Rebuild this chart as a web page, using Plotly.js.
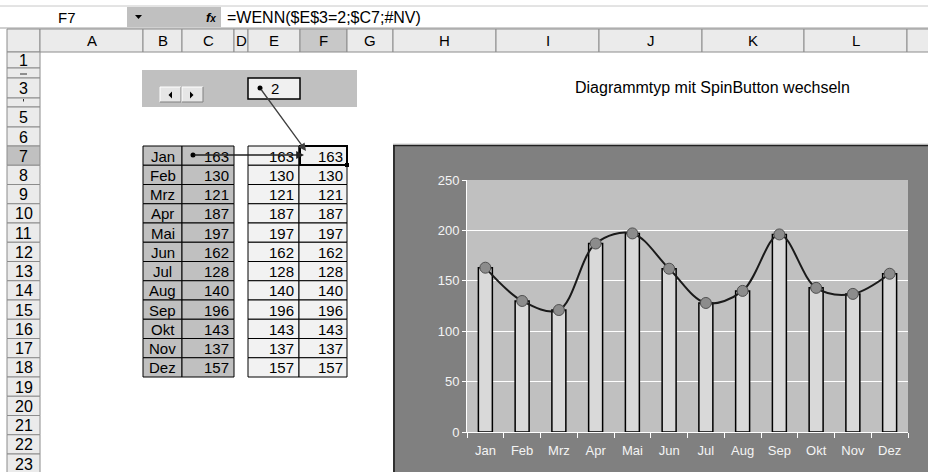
<!DOCTYPE html>
<html><head><meta charset="utf-8">
<script src="https://cdn.plot.ly/plotly-3.0.1.min.js"></script>
<style>html,body{margin:0;padding:0;background:#fff;}#chart{width:928px;height:472px;}</style>
</head><body><div id="chart"></div>
<script>
// ---- data ----
const months = ['Jan','Feb','Mrz','Apr','Mai','Jun','Jul','Aug','Sep','Okt','Nov','Dez'];
const values = [163,130,121,187,197,162,128,140,196,143,137,157];
const columnLetters = ['A','B','C','D','E','F','G','H','I','J','K','L','M'];
const rowNumbers = [1,2,3,4,5,6,7,8,9,10,11,12,13,14,15,16,17,18,19,20,21,22,23];
const cellRef = 'F7';
const formulaText = '=WENN($E$3=2;$C7;#NV)';
const spinValue = '2';
const sheetTitle = 'Diagrammtyp mit SpinButton wechseln';
const yTicks = [0,50,100,150,200,250];

// ---- layout helpers (pixel -> paper) ----
const W = 928, H = 472;
const PX = x => x / W, PY = y => 1 - y / H;
const FONT = 'Liberation Sans, Arial, sans-serif';
const shapes = [], ann = [];
function rect(x0,y0,x1,y1,fill,lc,lw){
  shapes.push({type:'rect',xref:'paper',yref:'paper',layer:'below',
    x0:PX(x0),x1:PX(x1),y0:PY(y1),y1:PY(y0),fillcolor:fill,
    line:{color:lc||'rgba(0,0,0,0)',width:lc?(lw===undefined?1:lw):0}});
}
function seg(x0,y0,x1,y1,c,lw){
  shapes.push({type:'line',xref:'paper',yref:'paper',layer:'below',
    x0:PX(x0),x1:PX(x1),y0:PY(y0),y1:PY(y1),line:{color:c,width:lw||1}});
}
function poly(pts,fill){
  let p = pts.map((q,i)=>(i?'L':'M')+PX(q[0])+','+PY(q[1])).join(' ')+' Z';
  shapes.push({type:'path',xref:'paper',yref:'paper',layer:'below',path:p,fillcolor:fill,line:{width:0}});
}
function dot(x,y,r,c){
  shapes.push({type:'circle',xref:'paper',yref:'paper',layer:'below',
    x0:PX(x-r),x1:PX(x+r),y0:PY(y+r),y1:PY(y-r),fillcolor:c,line:{width:0}});
}
function txt(x,y,s,size,xa,color){
  ann.push({xref:'paper',yref:'paper',x:PX(x),y:PY(y),text:s,showarrow:false,
    xanchor:xa||'center',yanchor:'middle',font:{family:FONT,size:size||14,color:color||'#000'}});
}

// ---- formula bar ----
seg(0,6,W,6,'#c8c8c8',1);
rect(0,7,127,27,'#ffffff');
rect(127,7,221,27,'#c0c0c0');
rect(221,7,W,27,'#ffffff');
seg(0,28,W,28,'#a0a0a0',1);
txt(67,17,cellRef,15);
poly([[135,15],[142,15],[138.5,19]],'#000');
txt(211,17,'<b><i>f</i></b><span style="font-size:10px"><b><i>x</i></b></span>',13);
txt(225,17,formulaText,16,'left');

// ---- column headers ----
const colX = [40,143,182,234,248,300,347,393,496,599,702,804,907,1010];
rect(7,29,40,52,'#ebebeb','#8c8c8c',1);
columnLetters.forEach((c,i)=>{
  const sel = c===cellRef[0];
  rect(colX[i],29,colX[i+1],52,sel?'#c8c8c8':'#ebebeb','#8c8c8c',1);
  if(colX[i+1] <= W) txt((colX[i]+colX[i+1])/2,41,c,15);
});

// ---- row headers ----
const rowTop = r => r<=6 ? [52,68,78,98,107,127][r-1] : 146+(r-7)*19.25;
const rowBot = r => rowTop(r+1);
rowNumbers.forEach(r=>{
  const y0=rowTop(r), y1=rowBot(r);
  rect(7,y0,40,y1,r===7?'#c0c0c0':'#ebebeb','#8c8c8c',1);
  if(r!==2 && r!==4) txt(23.5,(y0+y1)/2+0.5,String(r),16);
});
seg(20,74,27,74,'#333',1);
seg(23.5,99,23.5,101.5,'#333',1);

// ---- spin button panel ----
rect(142,70,357,107,'#c0c0c0');
[[160,181],[182,203]].forEach(b=>{
  rect(b[0],87,b[1],102,'#e6e6e6');
  seg(b[0],87,b[1],87,'#ffffff',1); seg(b[0],87,b[0],102,'#ffffff',1);
  seg(b[0],102,b[1],102,'#808080',1); seg(b[1],87,b[1],102,'#808080',1);
});
poly([[172,91.5],[172,98.5],[168.5,95]],'#000');
poly([[190,91.5],[190,98.5],[193.5,95]],'#000');
rect(248,78,300,99,'#f0f0f0','#000',1.5);
txt(269,88.5,spinValue,15,'left');
dot(260,88,2.5,'#000');

// ---- title text ----
txt(712,87,sheetTitle,16);

// ---- tables ----
months.forEach((m,i)=>{
  const r=7+i, y0=rowTop(r), y1=rowBot(r), yc=(y0+y1)/2+0.5;
  rect(143,y0,182,y1,'#c0c0c0','#000',1);
  rect(182,y0,234,y1,'#c0c0c0','#000',1);
  rect(248,y0,299,y1,'#f2f2f2','#000',1);
  rect(299,y0,347,y1,'#f2f2f2','#000',1);
  txt(162.5,yc,m,15);
  txt(231,yc,String(values[i]),15,'right');
  txt(296,yc,String(values[i]),15,'right');
  txt(345,yc,String(values[i]),15,'right');
});
// selected cell F7
rect(300,146,347,165,'rgba(0,0,0,0)','#000',2);
rect(345,163,349,167,'#000');
// precedent arrows
dot(193,155,2.5,'#000');
ann.push({xref:'paper',yref:'paper',x:PX(304),y:PY(155),ax:-111,ay:0,text:'',showarrow:true,
  arrowhead:2,arrowsize:1.2,arrowwidth:1.3,arrowcolor:'#202020'});
ann.push({xref:'paper',yref:'paper',x:PX(306),y:PY(151),ax:-46,ay:-63,text:'',showarrow:true,
  arrowhead:2,arrowsize:1.2,arrowwidth:1.3,arrowcolor:'#404040'});

// ---- chart area ----
rect(393,145,W+10,H+10,'#808080');
seg(393,144,W,144,'#d0d0d0',1);
seg(394,145,394,H,'#303030',2);
seg(393,145.5,W,145.5,'#202020',1.5);
const plotL=467, plotR=908, plotT=180, plotB=432;
rect(plotL,plotT,plotR,plotB,'#c0c0c0');

const traces = [
  {type:'bar',x:months,y:values,marker:{color:'#d9d9d9',line:{color:'#000',width:1.5}},hoverinfo:'skip'},
  {type:'scatter',mode:'lines+markers',x:months,y:values,
   line:{shape:'spline',smoothing:1,color:'#1a1a1a',width:2},
   marker:{size:11,color:'#8c8c8c',line:{color:'#505050',width:1}},hoverinfo:'skip'}
];
const layout = {
  width:W,height:H,margin:{l:0,r:0,t:0,b:0},
  paper_bgcolor:'#ffffff',plot_bgcolor:'rgba(0,0,0,0)',
  showlegend:false,bargap:0.62,hovermode:false,
  xaxis:{domain:[PX(plotL),PX(plotR)],type:'category',range:[-0.5,11.5],autorange:false,
    showline:true,linecolor:'#ffffff',linewidth:1,
    ticks:'outside',tickson:'boundaries',ticklen:5,tickcolor:'#ffffff',tickwidth:1,showgrid:false,
    ticklabelstandoff:6,
    tickfont:{family:FONT,size:13,color:'#f4f4f4'},fixedrange:true},
  yaxis:{domain:[PY(plotB),PY(plotT)],range:[0,250],autorange:false,tickvals:yTicks,showgrid:true,gridcolor:'#ffffff',gridwidth:1,
    zeroline:false,showline:true,linecolor:'#ffffff',linewidth:1,ticks:'outside',ticklen:4,tickcolor:'#ffffff',
    tickfont:{family:FONT,size:13,color:'#f4f4f4'},fixedrange:true},
  shapes:shapes,annotations:ann
};
Plotly.newPlot('chart',traces,layout,{displayModeBar:false,staticPlot:true});
</script></body></html>
